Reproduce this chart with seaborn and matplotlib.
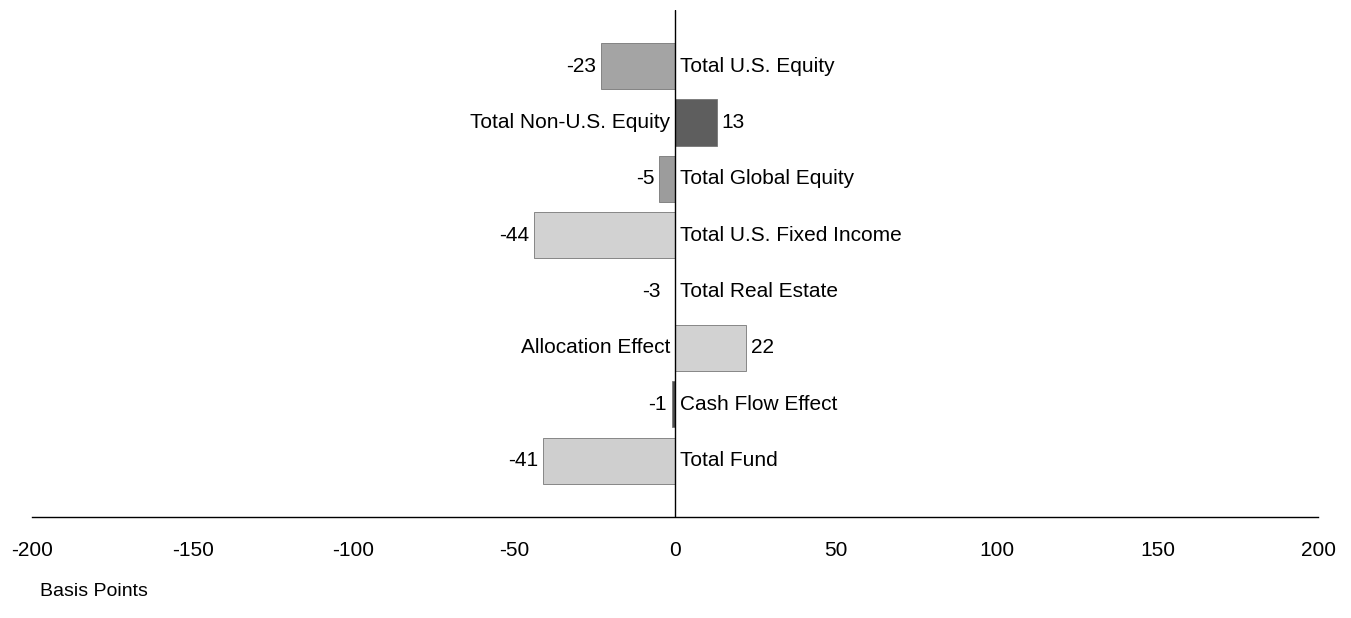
import numpy as np
import pandas as pd
import seaborn as sns
import matplotlib.pyplot as plt

# attribution data (basis points)
categories = ["Total U.S. Equity", "Total Non-U.S. Equity", "Total Global Equity",
              "Total U.S. Fixed Income", "Total Real Estate", "Allocation Effect",
              "Cash Flow Effect", "Total Fund"]
values = [-23, 13, -5, -44, -3, 22, -1, -41]
bar_colors = ["#a4a4a4", "#5e5e5e", "#9c9c9c", "#d2d2d2", "#ffffff", "#d2d2d2", "#505050", "#cfcfcf"]
xticks = [-200, -150, -100, -50, 0, 50, 100, 150, 200]

sns.set_theme(style="white")
plt.rcParams['font.family'] = ['Liberation Sans', 'DejaVu Sans']
plt.rcParams['text.color'] = 'black'
plt.rcParams['xtick.color'] = 'black'

df = pd.DataFrame({"cat": categories, "val": values})

fig = plt.figure(figsize=(13.51, 6.18), dpi=100)
ax = fig.add_axes([0.0237, 0.1634, 0.952, 0.8206])

sns.barplot(data=df, x="val", y="cat", hue="cat", palette=bar_colors, order=categories,
            hue_order=categories, orient="h", width=0.82, legend=False, ax=ax,
            linewidth=0)

# darker outline on the visible bars, none on the white one
for p, c in zip(ax.patches, bar_colors):
    if c != "#ffffff":
        p.set_edgecolor("#777777")
        p.set_linewidth(0.6)

ax.set_xlim(-200, 200)
ax.set_ylim(8, -1)
ax.axvline(0, color="black", lw=1)

fs = 15
# labels on each side of the zero line
for i, (c, v) in enumerate(zip(categories, values)):
    if v < 0:
        ax.text(v - 1.5, i, str(v), ha="right", va="center", fontsize=fs)
        ax.text(1.5, i, c, ha="left", va="center", fontsize=fs)
    else:
        ax.text(-1.5, i, c, ha="right", va="center", fontsize=fs)
        ax.text(v + 1.5, i, str(v), ha="left", va="center", fontsize=fs)

for s in ["top", "left", "right"]:
    ax.spines[s].set_visible(False)
ax.spines["bottom"].set_color("black")
ax.spines["bottom"].set_linewidth(1)
ax.set_yticks([])
ax.set_xticks(xticks)
ax.set_xticklabels([str(t) for t in xticks], fontsize=fs)
ax.tick_params(axis="x", length=0, pad=17)
ax.set_xlabel("")
ax.set_ylabel("")

fig.text(40 / 1351, 1 - 592 / 618, "Basis Points", ha="left", va="center", fontsize=14)

fig.savefig("out.png", dpi=100, facecolor="white")
